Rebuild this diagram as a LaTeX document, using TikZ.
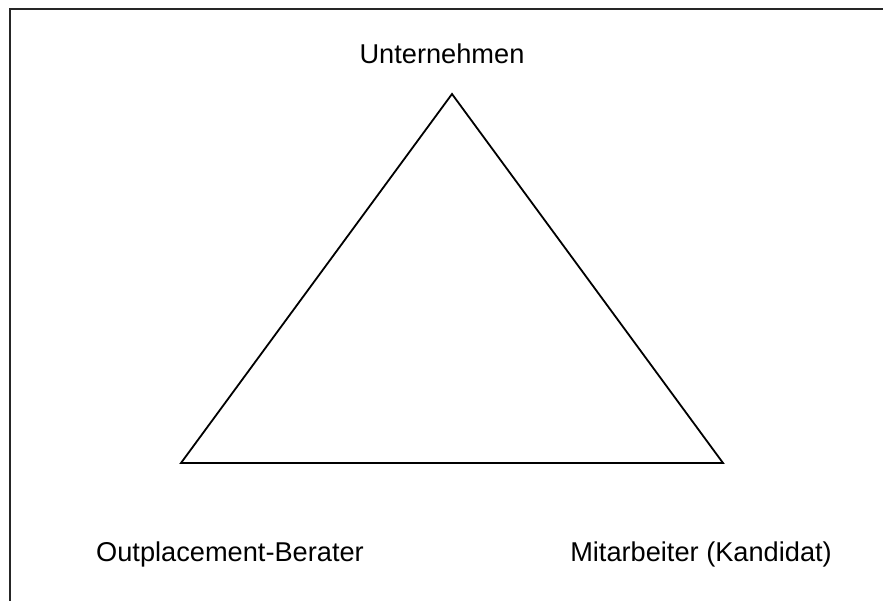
\documentclass[tikz,border=0pt]{standalone}
\usepackage{fontspec}
\setmainfont{Liberation Sans}
\usetikzlibrary{positioning}

\tikzstyle{party} = [inner sep=0pt, font=\fontsize{27.2}{31}\selectfont]
\tikzstyle{side} = [line width=1.8pt, line join=miter]
\tikzstyle{frame} = [line width=2.4pt, draw=black!85]

\begin{document}
\begin{tikzpicture}[x=1pt, y=-1pt]
\useasboundingbox (0,0) rectangle (883,601);
%rand
\draw[frame] (10,601) -- (10,9) -- (883,9);
%hoekpunten
\coordinate (top) at (452,94);
\coordinate (left) at (181,463);
\coordinate (right) at (723,463);
%driehoek
\draw[side] (left) -- (top) -- (right) -- cycle;
%namen
\node[party, anchor=base] (firm) at (442,64) {Unternehmen};
\node[party, anchor=base west] (advisor) at (96,561) {Outplacement-Berater};
\node[party, anchor=base east] (employee) at (832,561) {Mitarbeiter (Kandidat)};
\end{tikzpicture}
\end{document}
